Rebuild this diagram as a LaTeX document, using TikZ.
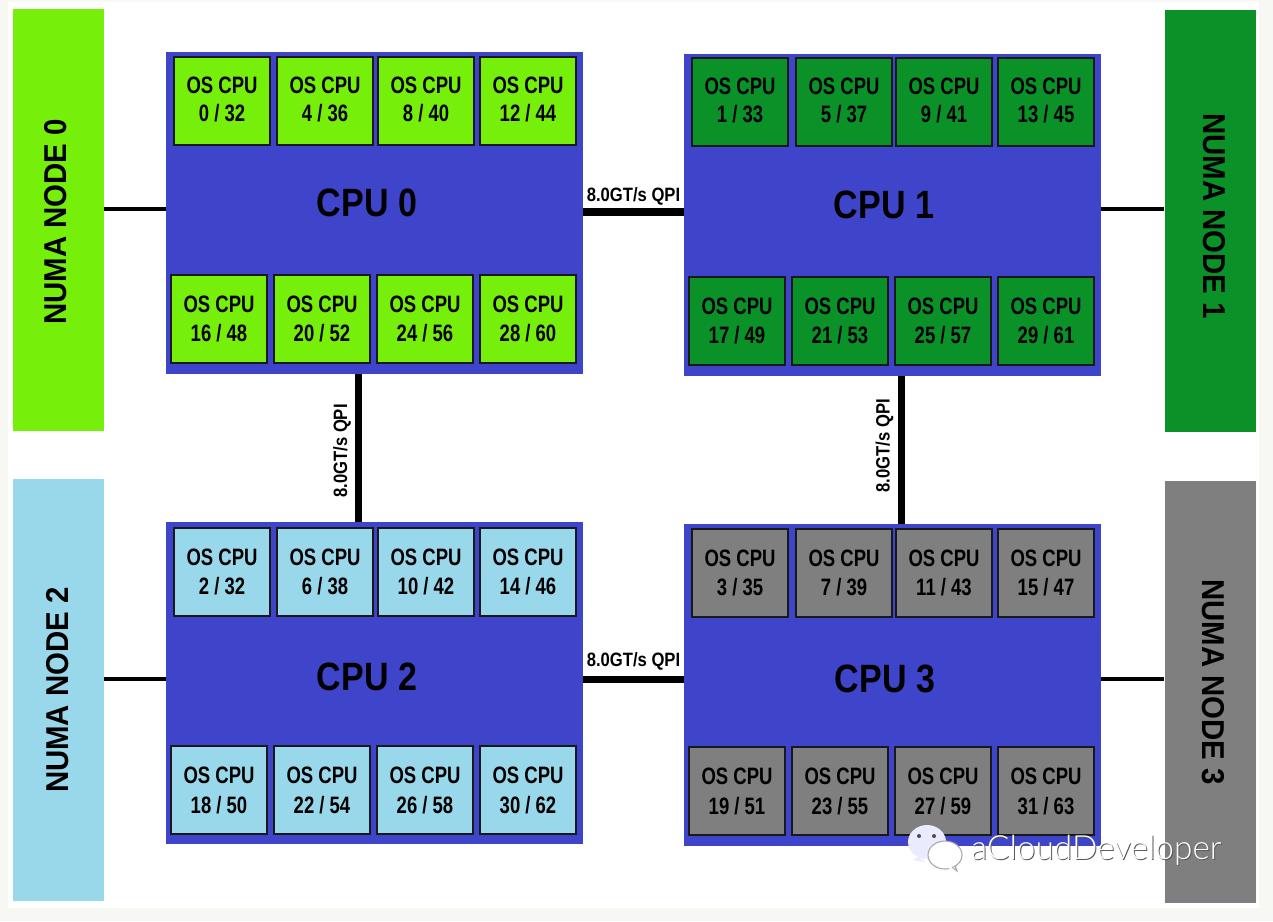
\documentclass[tikz,border=0pt]{standalone}
\usepackage{fontspec}
\setmainfont{Liberation Sans}[FakeStretch=0.78]
\newfontfamily\numafont{Liberation Sans}[FakeStretch=0.93]
\newfontfamily\cpufont{Liberation Sans}[FakeStretch=0.86]
\newfontfamily\markfont{Lato Light}
\definecolor{pagecol}{HTML}{F7F7F3}
\definecolor{cpucol}{HTML}{3E45CB}
\definecolor{lime}{HTML}{76F00A}
\definecolor{forest}{HTML}{0A9128}
\definecolor{sky}{HTML}{99D8EA}
\definecolor{slate}{HTML}{7F7F7F}
\begin{document}
\begin{tikzpicture}[x=0.02cm,y=-0.02cm]
\tikzset{
  numa/.style = {shape = rectangle, minimum width = 1.82cm, minimum height = 8.44cm, inner sep = 0pt},
  cpu/.style = {shape = rectangle, fill = cpucol, minimum width = 8.34cm, minimum height = 6.44cm, inner sep = 0pt},
  tile/.style = {shape = rectangle, draw = black!90, line width = 0.7pt, minimum width = 1.92cm, minimum height = 1.76cm, inner sep = 0pt, align = center, font = \bfseries\fontsize{13.5}{17}\selectfont},
  tilea/.style = {tile, fill = lime},
  tileb/.style = {tile, fill = forest},
  tilec/.style = {tile, fill = sky},
  tiled/.style = {tile, fill = slate},
  toprow/.style = {text depth = 2.3pt},
  cpulabel/.style = {font = \cpufont\bfseries\fontsize{22.5}{22.5}\selectfont},
  numalabel/.style = {font = \numafont\bfseries\fontsize{18}{18}\selectfont},
  qpilabel/.style = {font = \cpufont\bfseries\fontsize{11}{11}\selectfont},
  memlink/.style = {line width = 1.9pt},
  qpilink/.style = {line width = 4pt}
}
\fill[pagecol] (0,0) rectangle (1273,921);
\fill[white] (8,2) rectangle (1259,908);

% numa nodes
\node[numa, fill = lime] (numa0) at (58.5,220) {};
\node[numa, fill = forest] (numa1) at (1210,221) {};
\node[numa, fill = sky] (numa2) at (58.5,690) {};
\node[numa, fill = slate] (numa3) at (1210,692) {};
\node[numalabel, rotate = 90] (numatext0) at (55.5,222) {NUMA NODE 0};
\node[numalabel, rotate = -90] (numatext1) at (1214,216) {NUMA NODE 1};
\node[numalabel, rotate = 90] (numatext2) at (57.5,690) {NUMA NODE 2};
\node[numalabel, rotate = -90] (numatext3) at (1213,682) {NUMA NODE 3};

% sockets
\node[cpu] (cpu0) at (374.5,213) {};
\node[cpu] (cpu1) at (892.5,215) {};
\node[cpu] (cpu2) at (374.5,683) {};
\node[cpu] (cpu3) at (892.5,685) {};
\node[cpulabel] (cputext0) at (367,203) {CPU 0};
\node[cpulabel] (cputext1) at (884,205) {CPU 1};
\node[cpulabel] (cputext2) at (367,677) {CPU 2};
\node[cpulabel] (cputext3) at (885,679) {CPU 3};

% links
\coordinate (ya) at (0,209);
\coordinate (yb) at (0,679);
\coordinate (yc) at (0,212);
\coordinate (xa) at (358.5,0);
\coordinate (xb) at (901,0);
\draw[memlink] (numa0.east |- ya) -- (cpu0.west |- ya);
\draw[memlink] (cpu1.east |- ya) -- (numa1.west |- ya);
\draw[memlink] (numa2.east |- yb) -- (cpu2.west |- yb);
\draw[memlink] (cpu3.east |- yb) -- (numa3.west |- yb);
\draw[qpilink] (cpu0.east |- yc) -- node[qpilabel, above = -1.4pt] (qpi01) {8.0GT/s QPI} (cpu1.west |- yc);
\draw[qpilink] (cpu2.east |- yb) -- node[qpilabel, above = -0.3pt] (qpi23) {8.0GT/s QPI} (cpu3.west |- yb);
\draw[qpilink] (xa |- cpu0.south) -- node[qpilabel, rotate = 90, above = -1pt, pos = 0.52] (qpi02) {8.0GT/s QPI} (xa |- cpu2.north);
\draw[qpilink] (xb |- cpu1.south) -- node[qpilabel, rotate = 90, above = -1pt, pos = 0.47] (qpi13) {8.0GT/s QPI} (xb |- cpu3.north);

% cpu 0
\node[tilea, toprow] (c0) at (222,101) {OS CPU\\[-1pt]0 / 32};
\node[tilea, toprow] (c4) at (325,101) {OS CPU\\[-1pt]4 / 36};
\node[tilea, toprow] (c8) at (426,101) {OS CPU\\[-1pt]8 / 40};
\node[tilea, toprow] (c12) at (528,101) {OS CPU\\[-1pt]12 / 44};
\node[tilea] (c16) at (219,319) {OS CPU\\16 / 48};
\node[tilea] (c20) at (322,319) {OS CPU\\20 / 52};
\node[tilea] (c24) at (425,319) {OS CPU\\24 / 56};
\node[tilea] (c28) at (528,319) {OS CPU\\28 / 60};

% cpu 1
\node[tileb, toprow] (c1) at (740,102) {OS CPU\\[-1pt]1 / 33};
\node[tileb, toprow] (c5) at (844,102) {OS CPU\\[-1pt]5 / 37};
\node[tileb, toprow] (c9) at (944,102) {OS CPU\\[-1pt]9 / 41};
\node[tileb, toprow] (c13) at (1046,102) {OS CPU\\[-1pt]13 / 45};
\node[tileb] (c17) at (737,321) {OS CPU\\17 / 49};
\node[tileb] (c21) at (840,321) {OS CPU\\21 / 53};
\node[tileb] (c25) at (943,321) {OS CPU\\25 / 57};
\node[tileb] (c29) at (1046,321) {OS CPU\\29 / 61};

% cpu 2
\node[tilec] (c2) at (222,572) {OS CPU\\2 / 32};
\node[tilec] (c6) at (325,572) {OS CPU\\6 / 38};
\node[tilec] (c10) at (426,572) {OS CPU\\10 / 42};
\node[tilec] (c14) at (528,572) {OS CPU\\14 / 46};
\node[tilec] (c18) at (219,790) {OS CPU\\18 / 50};
\node[tilec] (c22) at (322,790) {OS CPU\\22 / 54};
\node[tilec] (c26) at (425,790) {OS CPU\\26 / 58};
\node[tilec] (c30) at (528,790) {OS CPU\\30 / 62};

% cpu 3
\node[tiled] (c3) at (740,573) {OS CPU\\3 / 35};
\node[tiled] (c7) at (844,573) {OS CPU\\7 / 39};
\node[tiled] (c11) at (944,573) {OS CPU\\11 / 43};
\node[tiled] (c15) at (1046,573) {OS CPU\\15 / 47};
\node[tiled] (c19) at (737,791) {OS CPU\\19 / 51};
\node[tiled] (c23) at (840,791) {OS CPU\\23 / 55};
\node[tiled] (c27) at (943,791) {OS CPU\\27 / 59};
\node[tiled] (c31) at (1046,791) {OS CPU\\31 / 63};

% watermark
\fill[white!92!blue] (927,842) ellipse (19 and 17);
\fill[white!92!blue] (918,857) -- (913,860) -- (926,862) -- cycle;
\fill[black!70] (919,836) circle (2);
\fill[black!70] (934,836) circle (2);
\draw[black!35, fill = white, line width = 0.6pt] (945,855) ellipse (17 and 14);
\fill[white] (952,865) -- (956,871) -- (948,868) -- cycle;
\draw[black!35, line width = 0.6pt] (952,867) -- (957,871) -- (955,865);
\node[anchor = west, text = black!65, font = \markfont\fontsize{19}{19}\selectfont] (markshade) at (966,851) {aCloudDeveloper};
\node[anchor = west, text = white, font = \markfont\fontsize{19}{19}\selectfont] (mark) at (965,850) {aCloudDeveloper};
\end{tikzpicture}
\end{document}
